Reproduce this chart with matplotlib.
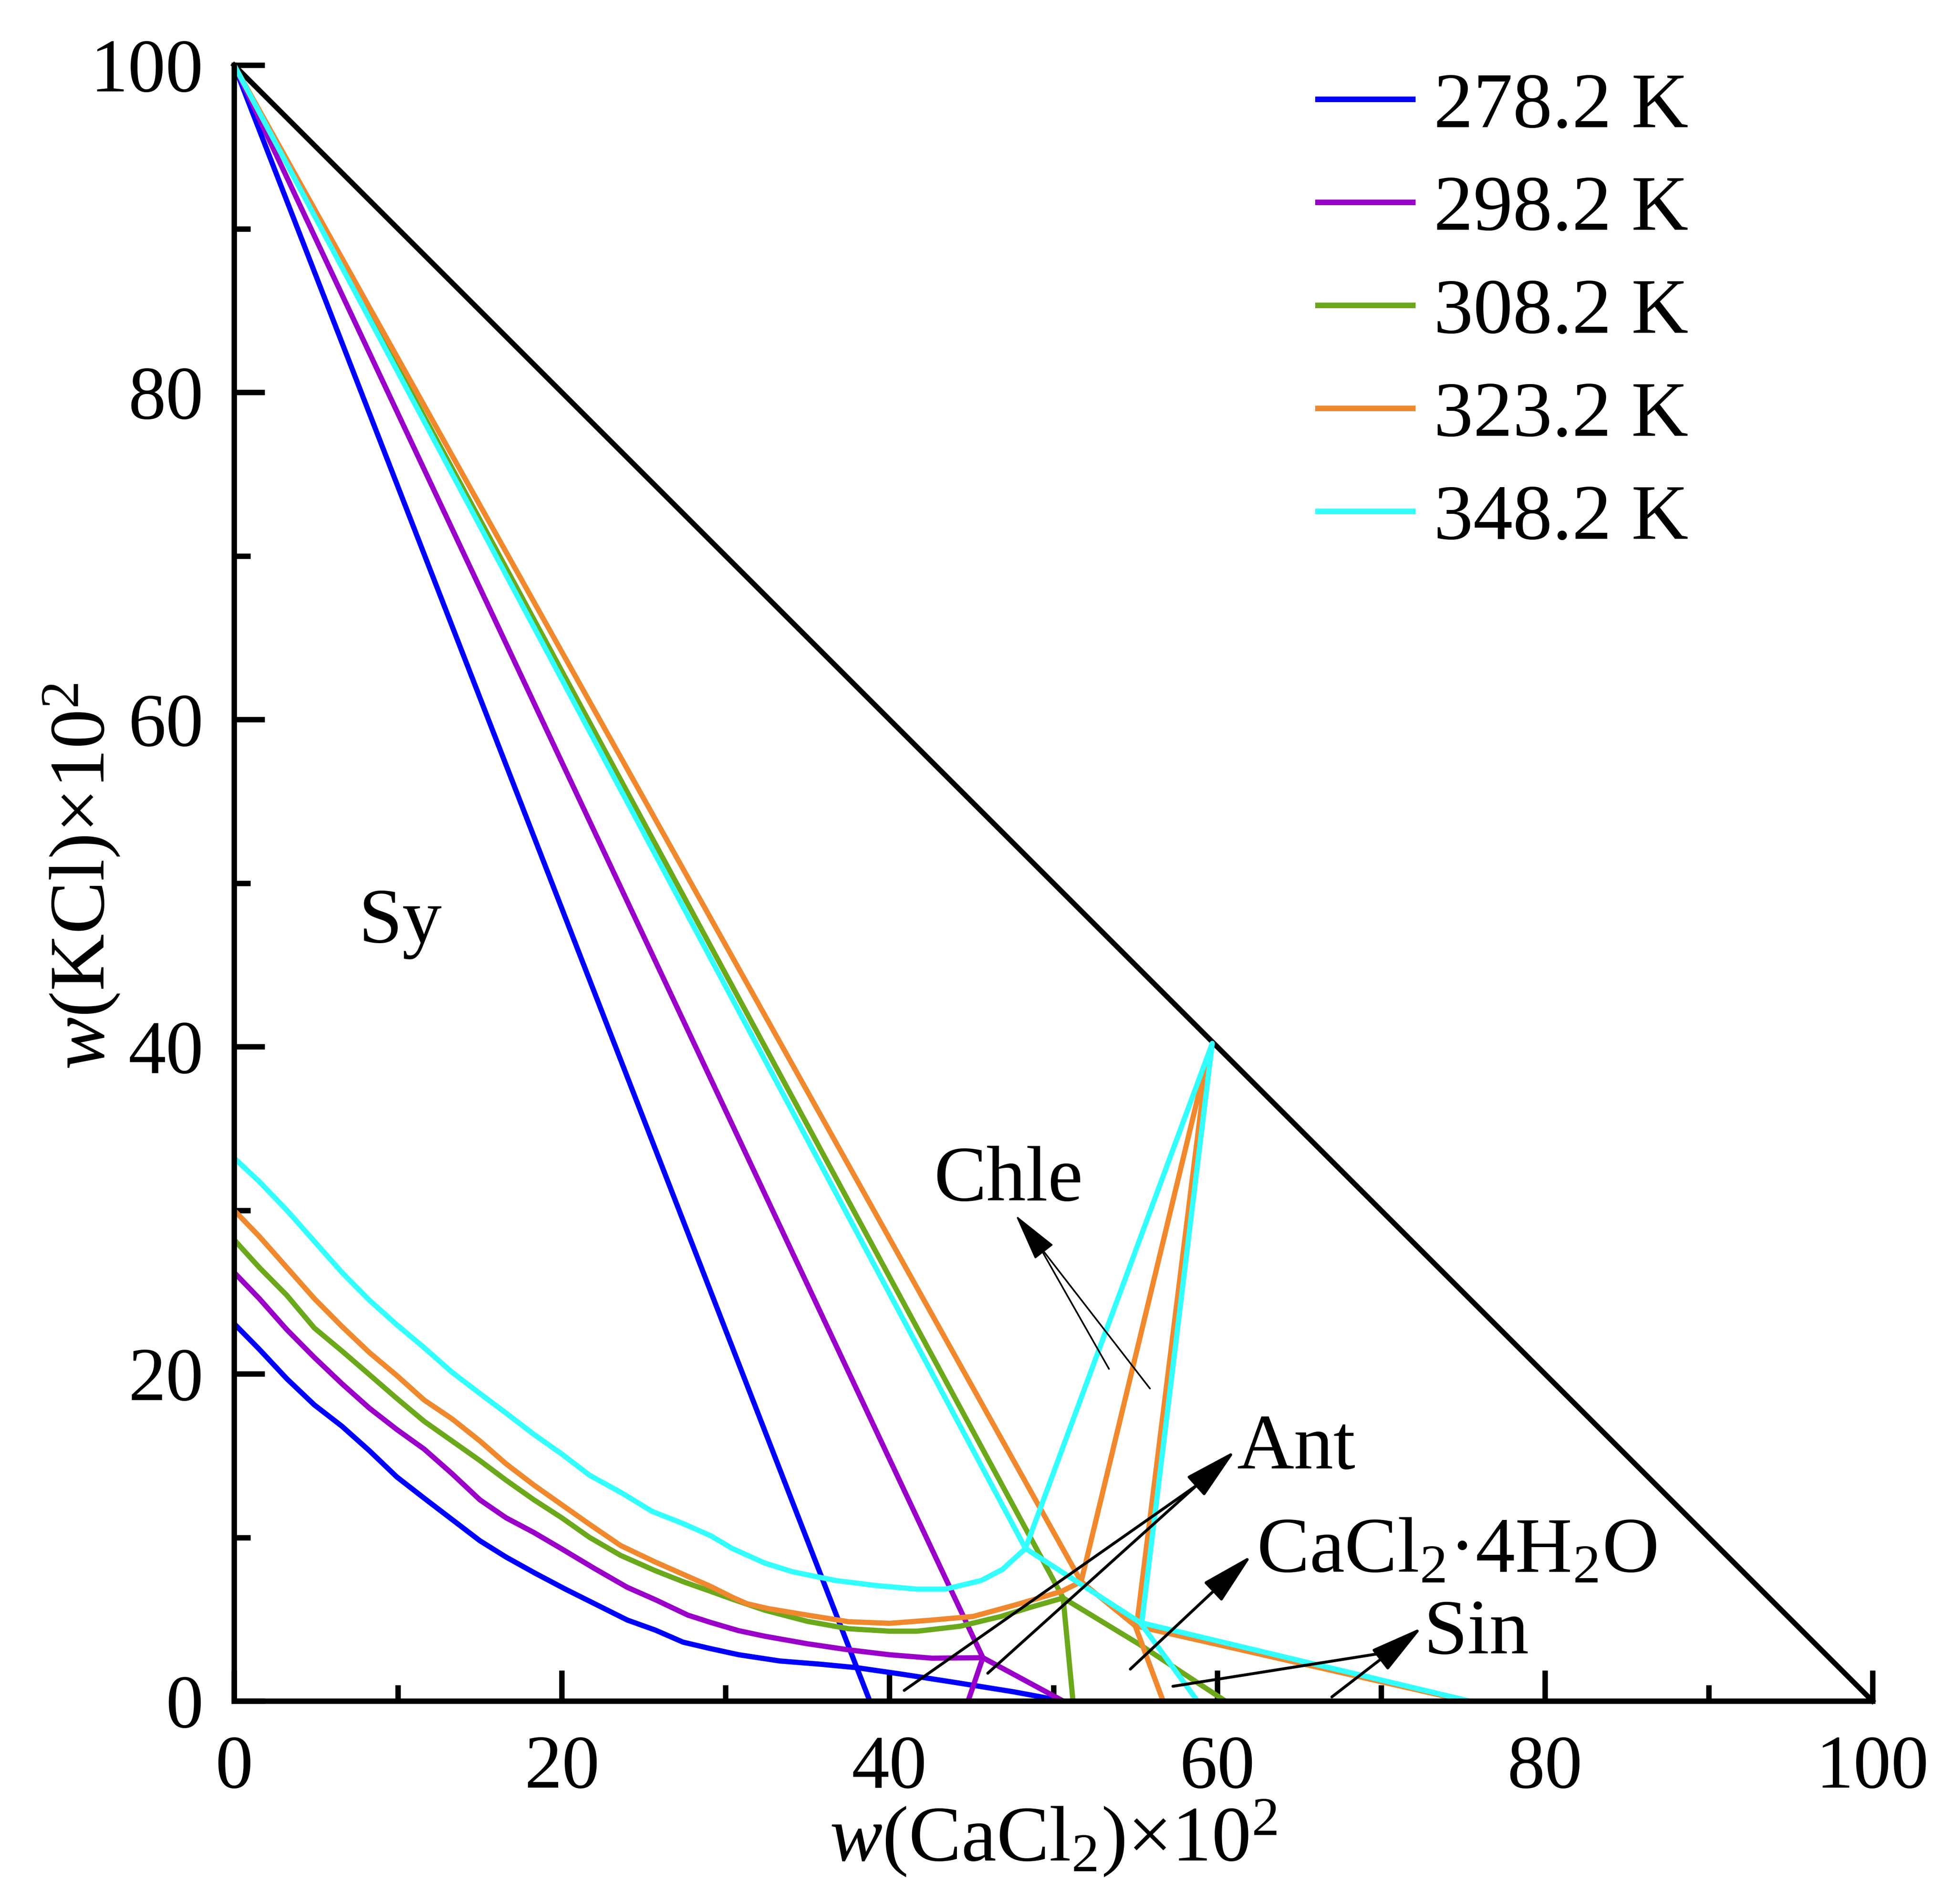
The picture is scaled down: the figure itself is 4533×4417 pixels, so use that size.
import matplotlib
matplotlib.use("Agg")
import matplotlib.pyplot as plt
from matplotlib.ticker import MultipleLocator
from matplotlib.lines import Line2D

plt.rcParams['font.family'] = ['Liberation Serif', 'DejaVu Serif']
plt.rcParams['mathtext.fontset'] = 'custom'
plt.rcParams['mathtext.rm'] = 'Liberation Serif'
plt.rcParams['mathtext.it'] = 'Liberation Serif:italic'
plt.rcParams['mathtext.bf'] = 'Liberation Serif:bold'

# ---------------- data ----------------
labels = ['278.2 K', '298.2 K', '308.2 K', '323.2 K', '348.2 K']
colors = ['#0000FF', '#9A00C8', '#6BA81B', '#F0882E', '#33FFFF']

# 278.2 K
t278_tie_x = [0, 38.8]
t278_tie_y = [100, 0]
t278_cur_x = [0, 1.54, 3.22, 4.9, 6.58, 8.26, 9.93, 11.6, 13.3, 15.0, 16.6, 18.4, 20.2, 22.3,
              24.0, 25.7, 27.4, 29.1, 30.8, 33.3, 35.8, 38.0, 40.9, 44.3, 47.6, 50.6]
t278_cur_y = [23.07, 21.5, 19.7, 18.1, 16.8, 15.3, 13.7, 12.4, 11.1, 9.8, 8.8, 7.8, 6.85, 5.8,
              4.95, 4.34, 3.6, 3.2, 2.83, 2.45, 2.25, 2.04, 1.62, 1.09, 0.56, 0]

# 298.2 K
t298_tie_x = [0, 45.7, 44.8]
t298_tie_y = [100, 2.65, 0]
t298_cur_x = [0, 1.54, 3.22, 4.9, 6.58, 8.26, 9.93, 11.6, 13.3, 15.0, 16.6, 18.3, 20.0, 22.0,
              24.0, 25.7, 27.7, 29.1, 30.8, 32.4, 35.0, 37.5, 40.0, 42.6, 45.7, 50.6]
t298_cur_y = [26.2, 24.6, 22.7, 21.0, 19.4, 17.9, 16.6, 15.4, 13.9, 12.3, 11.2, 10.3, 9.3, 8.1,
              6.95, 6.2, 5.25, 4.8, 4.3, 3.96, 3.5, 3.13, 2.83, 2.62, 2.65, 0]

# 308.2 K
t308_tie_x = [0, 50.6, 51.2]
t308_tie_y = [100, 6.3, 0]
t308_cur_x = [0, 1.54, 3.22, 4.9, 6.58, 8.26, 9.93, 11.6, 13.3, 15.0, 16.6, 18.3, 20.0, 21.7,
              23.6, 25.7, 27.4, 29.1, 30.4, 32.4, 35.0, 37.5, 40.0, 41.7, 44.3, 46.8, 48.5, 50.6]
t308_cur_y = [28.2, 26.5, 24.8, 22.8, 21.4, 19.95, 18.5, 17.1, 15.9, 14.7, 13.5, 12.3, 11.2, 10.0,
              8.9, 7.97, 7.3, 6.7, 6.23, 5.55, 4.87, 4.42, 4.27, 4.27, 4.57, 5.17, 5.7, 6.3]
t308_br_x = [50.6, 55.2, 60.5]
t308_br_y = [6.3, 3.5, 0]

# 323.2 K
t323_tie_x = [0, 51.7]
t323_tie_y = [100, 7.3]
t323_cur_x = [0, 1.54, 3.22, 4.9, 6.58, 8.26, 9.93, 11.6, 13.3, 15.0, 16.6, 18.3, 20.0, 21.7,
              23.6, 25.7, 27.4, 29.1, 30.4, 31.3, 32.6, 35.0, 37.5, 40.0, 42.6, 45.1, 47.6, 50.5, 51.7]
t323_cur_y = [30.0, 28.4, 26.5, 24.6, 22.9, 21.3, 19.9, 18.4, 17.25, 15.9, 14.5, 13.2, 12.0, 10.8,
              9.5, 8.5, 7.75, 7.0, 6.35, 5.95, 5.65, 5.25, 4.85, 4.75, 4.95, 5.17, 5.85, 6.7, 7.3]
t323_peak_x = [51.7, 59.4, 55.1]
t323_peak_y = [7.3, 39.3, 4.7]
t323_low_x = [51.7, 55.0, 56.7]
t323_low_y = [7.3, 4.6, 0]
t323_sin_x = [55.0, 75.2]
t323_sin_y = [4.6, 0]

# 348.2 K
t348_tie_x = [0, 48.3]
t348_tie_y = [100, 9.33]
t348_cur_x = [0, 1.54, 3.22, 4.9, 6.58, 8.26, 9.93, 11.6, 13.3, 15.0, 16.6, 18.3, 20.0, 21.7,
              23.7, 25.5, 27.4, 29.1, 30.4, 32.4, 34.1, 36.7, 39.2, 41.7, 43.4, 45.6, 46.9, 48.3]
t348_cur_y = [33.2, 31.75, 30.0, 28.1, 26.2, 24.5, 23.0, 21.6, 20.1, 18.8, 17.6, 16.3, 15.1, 13.8,
              12.7, 11.6, 10.85, 10.1, 9.33, 8.43, 7.9, 7.37, 7.06, 6.84, 6.84, 7.37, 8.05, 9.33]
t348_peak_x = [48.3, 59.7, 55.4]
t348_peak_y = [9.33, 40.2, 4.8]
t348_low_x = [48.3, 55.3, 58.8]
t348_low_y = [9.33, 4.8, 0]
t348_sin_x = [55.3, 75.4]
t348_sin_y = [4.8, 0]

# outer triangle edge
edge_x = [0, 100]
edge_y = [100, 0]

# annotations
region_labels = [('Sy', 7.6, 46.4), ('Chle', 42.7, 30.6), ('Ant', 61.2, 14.2),
                 ('CaCl$_2$·4H$_2$O', 62.4, 7.9), ('Sin', 72.6, 2.9)]
# arrows with heads: (start, tip); plain lines joining the heads: (start, end)
thin_head_arrows = [((55.9, 19.1), (47.7, 29.7))]
thin_plain_lines = [((53.4, 20.3), (49.2, 27.7))]
thick_head_arrows = [((46.0, 1.7), (61.1, 15.3)),
                     ((54.7, 1.95), (62.1, 8.9)),
                     ((67.0, 0.25), (72.5, 4.5))]
thick_plain_lines = [((40.9, 0.65), (59.2, 13.5)),
                     ((57.3, 0.9), (69.9, 2.9))]

xticks_major = [0, 20, 40, 60, 80, 100]
yticks_major = [0, 20, 40, 60, 80, 100]

# ---------------- figure ----------------
fig = plt.figure(figsize=(4533 / 300, 4417 / 300), dpi=300)
ax = fig.add_axes([0.1198, 0.1066, 0.8385, 0.8592])
ax.set_xlim(0, 100)
ax.set_ylim(0, 100)

LW = 2.9
kw = dict(lw=LW, clip_on=False, solid_joinstyle='round', solid_capstyle='butt')

ax.plot(edge_x, edge_y, color='black', lw=2.9, clip_on=False)

c = colors
ax.plot(t278_tie_x, t278_tie_y, color=c[0], **kw)
ax.plot(t278_cur_x, t278_cur_y, color=c[0], **kw)

ax.plot(t298_tie_x, t298_tie_y, color=c[1], **kw)
ax.plot(t298_cur_x, t298_cur_y, color=c[1], **kw)

ax.plot(t308_tie_x, t308_tie_y, color=c[2], **kw)
ax.plot(t308_cur_x, t308_cur_y, color=c[2], **kw)
ax.plot(t308_br_x, t308_br_y, color=c[2], **kw)

ax.plot(t323_tie_x, t323_tie_y, color=c[3], **kw)
ax.plot(t323_cur_x, t323_cur_y, color=c[3], **kw)
ax.plot(t323_peak_x, t323_peak_y, color=c[3], **kw)
ax.plot(t323_low_x, t323_low_y, color=c[3], **kw)
ax.plot(t323_sin_x, t323_sin_y, color=c[3], **kw)

ax.plot(t348_tie_x, t348_tie_y, color=c[4], **kw)
ax.plot(t348_cur_x, t348_cur_y, color=c[4], **kw)
ax.plot(t348_peak_x, t348_peak_y, color=c[4], **kw)
ax.plot(t348_low_x, t348_low_y, color=c[4], **kw)
ax.plot(t348_sin_x, t348_sin_y, color=c[4], **kw)

# arrows
head = '-|>,head_length=1.0,head_width=0.245'
for (s, t) in thin_head_arrows:
    ax.annotate('', xy=t, xytext=s,
                arrowprops=dict(arrowstyle=head, mutation_scale=23.5, lw=0.9,
                                color='black', shrinkA=0, shrinkB=0))
for (s, t) in thin_plain_lines:
    ax.annotate('', xy=t, xytext=s,
                arrowprops=dict(arrowstyle='-', lw=0.9, color='black',
                                shrinkA=0, shrinkB=0))
for (s, t) in thick_head_arrows:
    ax.annotate('', xy=t, xytext=s,
                arrowprops=dict(arrowstyle=head, mutation_scale=25.5, lw=1.6,
                                color='black', shrinkA=0, shrinkB=0))
for (s, t) in thick_plain_lines:
    ax.annotate('', xy=t, xytext=s,
                arrowprops=dict(arrowstyle='-', lw=1.6, color='black',
                                shrinkA=0, shrinkB=0))

for (txt, x, y) in region_labels:
    ax.text(x, y, txt, fontsize=44, ha='left', va='baseline', color='black')

# axes styling
for side in ['top', 'right']:
    ax.spines[side].set_visible(False)
for side in ['left', 'bottom']:
    ax.spines[side].set_linewidth(3.0)
ax.set_xticks(xticks_major)
ax.set_yticks(yticks_major)
ax.xaxis.set_minor_locator(MultipleLocator(10))
ax.yaxis.set_minor_locator(MultipleLocator(10))
ax.tick_params(which='major', direction='in', length=17, width=3.0, labelsize=42)
ax.tick_params(which='minor', direction='in', length=9, width=3.0)
ax.tick_params(axis='x', which='major', pad=19)
ax.tick_params(axis='y', which='major', pad=17)

ax.set_xlabel(r'$w$(CaCl$_2$)×10$^2$', fontsize=44)
ax.set_ylabel(r'$w$(KCl)×10$^2$', fontsize=44)
ax.xaxis.set_label_coords(0.5, -0.084)
ax.xaxis.label.set_va('center')
ax.yaxis.set_label_coords(-0.093, 0.504)
ax.yaxis.label.set_va('center')

handles = [Line2D([0], [0], color=col, lw=3.1) for col in colors]
leg = ax.legend(handles, labels, loc='upper left', bbox_to_anchor=(0.6614, 0.996),
                frameon=False, fontsize=44, handlelength=1.2, handletextpad=0.27,
                labelspacing=0.39, borderpad=0, borderaxespad=0)

fig.savefig('out.png', dpi=300)
